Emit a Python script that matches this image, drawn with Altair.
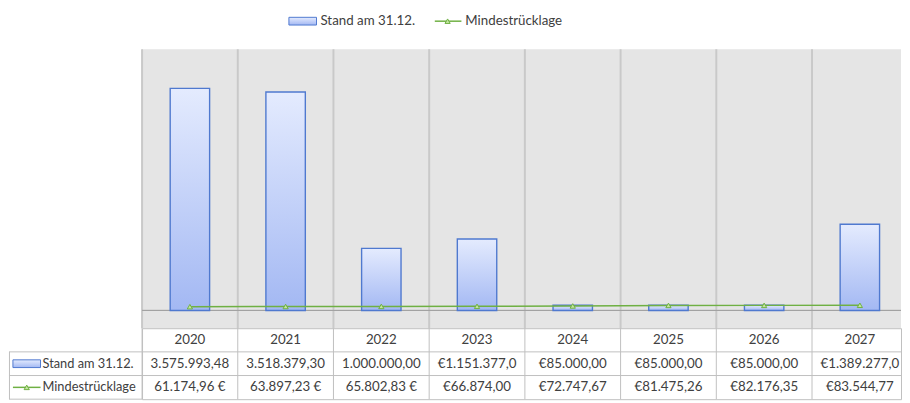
import altair as alt
import pandas as pd

# ---------------- data ----------------
years = ["2020", "2021", "2022", "2023", "2024", "2025", "2026", "2027"]
series_names = ["Stand am 31.12.", "Mindestrücklage"]
stand = [3575993.48, 3518379.30, 1000000.00, 1151377.00, 85000.00, 85000.00, 85000.00, 1389277.00]
mindest = [61174.96, 63897.23, 65802.83, 66874.00, 72747.67, 81475.26, 82176.35, 83544.77]
stand_labels = ["3.575.993,48", "3.518.379,30", "1.000.000,00", "€1.151.377,0",
                "€85.000,00", "€85.000,00", "€85.000,00", "€1.389.277,0"]
mindest_labels = ["61.174,96 €", "63.897,23 €", "65.802,83 €", "€66.874,00",
                  "€72.747,67", "€81.475,26", "€82.176,35", "€83.544,77"]
table_rows = ["Jahr"] + series_names

# ---------------- style ----------------
FONT = "Lato"
TXT = "#404040"
W = 770
COLW = 97.1
PLOT_H = 283
TABLE_H = 72
LEG_H = 39
HEAD = 135
GRID = "#c9c9c9"
TBL = "#bfbfbf"
BAR_STROKE = "#4f79cf"
GREEN = "#6fb043"
GREEN_FILL = "#c4e6a0"
bar_grad = alt.Gradient(
    gradient="linear",
    stops=[alt.GradientStop(color="#e4ebfe", offset=0),
           alt.GradientStop(color="#a3b8f3", offset=1)],
    x1=0, x2=0, y1=0, y2=1,
)
RECT_SHAPE = "M -1 -0.28 L 1 -0.28 L 1 0.28 L -1 0.28 Z"

df = pd.DataFrame({"year": years, "stand": stand, "mindest": mindest})

xscale = alt.Scale(domain=years, range=[0, COLW * len(years)], paddingInner=0, paddingOuter=0)
x_enc = alt.X("year:N", sort=years, scale=xscale, axis=None)
x_edge = alt.X("year:N", sort=years, scale=xscale, axis=None, bandPosition=0)
yscale = alt.Scale(domain=[-285700, 4206000], nice=False, zero=False)

# ---------------- plot ----------------
base = alt.Chart(df)
vgrid = base.mark_rule(color=GRID, strokeWidth=2).encode(x=x_edge)
zero = base.transform_calculate(zero="0").mark_rule(color="#a3a3a3", strokeWidth=1).encode(
    y=alt.Y("zero:Q", scale=yscale, axis=None))
bars = base.mark_bar(size=40, fill=bar_grad, stroke=BAR_STROKE, strokeWidth=1.4).encode(
    x=x_enc, y=alt.Y("stand:Q", scale=yscale, axis=None))
line = base.mark_line(color=GREEN, strokeWidth=1.5).encode(
    x=x_enc, y=alt.Y("mindest:Q", scale=yscale, axis=None))
pts = base.mark_point(shape="triangle-up", filled=True, fill=GREEN_FILL, stroke=GREEN,
                      strokeWidth=1, size=28, opacity=1).encode(
    x=x_enc, y=alt.Y("mindest:Q", scale=yscale, axis=None))

plot = alt.layer(vgrid, zero, bars, line, pts).properties(
    width=W, height=PLOT_H, view=alt.ViewBackground(fill="#e5e5e5", stroke=None))

# ---------------- legend (top) ----------------
leg_df = pd.DataFrame({"name": series_names})
lb = alt.Chart(leg_df)
leg_y = alt.value(10.5)
leg_rect = lb.transform_filter(alt.datum.name == series_names[0]).mark_point(
    shape=RECT_SHAPE, filled=True, fill=bar_grad, stroke=BAR_STROKE, strokeWidth=1,
    size=28 * 28, opacity=1).encode(x=alt.value(163), y=leg_y)
leg_t1 = lb.transform_filter(alt.datum.name == series_names[0]).mark_text(
    align="left", baseline="middle", font=FONT, fontSize=13.5, color=TXT).encode(
    x=alt.value(181), y=leg_y, text="name:N")
leg_line = lb.transform_filter(alt.datum.name == series_names[1]).mark_rule(
    color=GREEN, strokeWidth=1.5).encode(x=alt.value(297), x2=alt.value(324), y=leg_y)
leg_tri = lb.transform_filter(alt.datum.name == series_names[1]).mark_point(
    shape="triangle-up", filled=True, fill=GREEN_FILL, stroke=GREEN, strokeWidth=1,
    size=28, opacity=1).encode(x=alt.value(310), y=leg_y)
leg_t2 = lb.transform_filter(alt.datum.name == series_names[1]).mark_text(
    align="left", baseline="middle", font=FONT, fontSize=13.5, color=TXT).encode(
    x=alt.value(328), y=leg_y, text="name:N")
legend = alt.layer(leg_rect, leg_t1, leg_line, leg_tri, leg_t2).properties(
    width=W, height=LEG_H, view=alt.ViewBackground(fill=None, stroke=None))

# ---------------- data table ----------------
recs = []
for i, yv in enumerate(years):
    recs.append({"year": yv, "row": table_rows[0], "label": yv})
    recs.append({"year": yv, "row": table_rows[1], "label": stand_labels[i]})
    recs.append({"year": yv, "row": table_rows[2], "label": mindest_labels[i]})
tdf = pd.DataFrame(recs)
rscale = alt.Scale(domain=table_rows, paddingInner=0, paddingOuter=0)
y_row = alt.Y("row:N", scale=rscale, axis=None)
y_row_edge = alt.Y("row:N", scale=rscale, axis=None, bandPosition=0)

cells = alt.Chart(tdf).mark_text(font=FONT, fontSize=13.5, color=TXT, baseline="middle").encode(
    x=x_enc, y=y_row, text="label:N")
tvlines = alt.Chart(df).mark_rule(color=TBL, strokeWidth=1).encode(x=x_edge)

hb = alt.Chart(pd.DataFrame({"row": series_names}))
hlines = hb.mark_rule(color=TBL, strokeWidth=1).encode(
    y=y_row_edge, x=alt.value(-HEAD), x2=alt.value(W))
hbottom = hb.transform_filter(alt.datum.row == series_names[1]).mark_rule(
    color=TBL, strokeWidth=1).encode(y=alt.value(TABLE_H), x=alt.value(-HEAD), x2=alt.value(0))
hleft = hb.transform_filter(alt.datum.row == series_names[1]).mark_rule(
    color=TBL, strokeWidth=1).encode(x=alt.value(-HEAD + 0.5), y=alt.value(24), y2=alt.value(TABLE_H))
h_rect = hb.transform_filter(alt.datum.row == series_names[0]).mark_point(
    shape=RECT_SHAPE, filled=True, fill=bar_grad, stroke=BAR_STROKE, strokeWidth=1,
    size=28 * 28, opacity=1).encode(x=alt.value(-HEAD + 18), y=y_row)
h_line = hb.transform_filter(alt.datum.row == series_names[1]).mark_tick(
    color=GREEN, thickness=1.5, size=28, orient="horizontal", opacity=1).encode(
    x=alt.value(-HEAD + 18), y=y_row)
h_tri = hb.transform_filter(alt.datum.row == series_names[1]).mark_point(
    shape="triangle-up", filled=True, fill=GREEN_FILL, stroke=GREEN, strokeWidth=1,
    size=28, opacity=1).encode(x=alt.value(-HEAD + 18), y=y_row)
h_text = hb.mark_text(align="left", baseline="middle", font=FONT, fontSize=13,
                      color=TXT).encode(x=alt.value(-HEAD + 34), y=y_row, text="row:N")

table = alt.layer(tvlines, hlines, hbottom, hleft, cells, h_rect, h_line, h_tri, h_text).properties(
    width=W, height=TABLE_H, view=alt.ViewBackground(fill="white", stroke=TBL))

chart = alt.vconcat(legend, plot, table, spacing=0, bounds="flush").properties(
    padding=0, background="white"
).configure(font=FONT)

chart.save("out.html", embed_options={"renderer": "svg", "actions": False})
